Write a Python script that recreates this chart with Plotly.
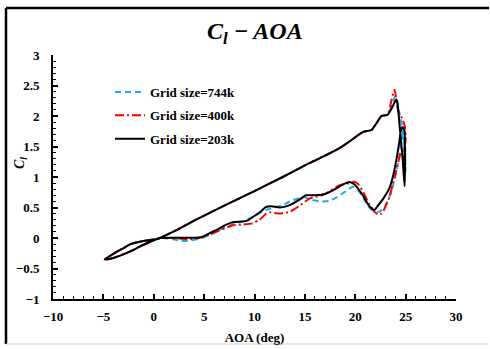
import plotly.graph_objects as go

# Upstroke branch shared by all three grids (from -5 deg up to the stall region)
up_aoa = [-4.87, -4.3, -3.7, -2.9, -2.06, -1.4, -0.73, 0.0, 0.6, 2.0, 4.2, 6.0, 8.5,
          10.0, 12.8, 15.0, 16.5, 18.4, 19.4, 20.8, 21.6, 22.1, 22.6, 23.2]
up_cl = [-0.35, -0.34, -0.31, -0.26, -0.20, -0.14, -0.09, -0.04, 0.0, 0.11, 0.30, 0.45, 0.65,
         0.77, 1.00, 1.19, 1.31, 1.47, 1.58, 1.74, 1.77, 1.88, 2.00, 2.02]

# Grid size = 744k : stall peak and downstroke
g744_aoa = [23.6, 24.0, 24.3, 24.6, 24.9, 25.0, 24.9, 24.75, 24.5, 24.1, 23.5, 22.9, 22.4,
            21.6, 21.0, 20.4, 19.8, 19.0, 18.2, 17.4, 16.4, 15.6, 15.0, 13.8, 12.8, 12.0,
            11.17, 10.0, 8.85, 8.0, 6.86, 5.5, 4.8, 4.0, 3.2, 2.5, 1.5, 0.6, 0.26, -0.5,
            -1.4, -2.3, -3.05, -4.0, -4.87]
g744_cl = [2.15, 2.33, 2.12, 1.88, 1.50, 1.10, 1.35, 1.72, 1.50, 1.10, 0.72, 0.50, 0.43,
           0.47, 0.60, 0.76, 0.84, 0.76, 0.67, 0.61, 0.60, 0.63, 0.67, 0.62, 0.54, 0.50,
           0.46, 0.36, 0.27, 0.24, 0.16, 0.05, 0.0, -0.03, -0.05, -0.04, -0.01, 0.0, -0.02, -0.035,
           -0.06, -0.10, -0.17, -0.26, -0.35]

# Grid size = 400k : stall peak and downstroke
g400_aoa = [23.6, 23.9, 24.3, 24.7, 24.95, 25.0, 24.85, 24.56, 24.07, 23.4, 22.9, 22.6,
            22.24, 21.8, 21.3, 20.8, 20.3, 19.93, 19.4, 18.4, 17.1, 16.5, 15.5, 14.47, 13.5,
            12.5, 11.5, 11.17, 10.5, 9.8, 8.8, 7.86, 6.5, 5.5, 4.5, 3.5, 2.5, 1.5, 0.6,
            0.26, -0.5, -1.4, -2.3, -3.05, -4.0, -4.87]
g400_cl = [2.26, 2.43, 2.05, 1.95, 1.80, 1.60, 1.48, 1.42, 1.11, 0.68, 0.48, 0.40,
           0.39, 0.45, 0.58, 0.75, 0.88, 0.92, 0.90, 0.86, 0.73, 0.69, 0.65, 0.53, 0.43,
           0.40, 0.42, 0.40, 0.30, 0.24, 0.22, 0.21, 0.12, 0.05, 0.0, -0.02, -0.01, 0.0, 0.0,
           -0.02, -0.035, -0.06, -0.10, -0.17, -0.26, -0.35]

# Grid size = 203k : stall peak and downstroke
g203_aoa = [23.6, 24.07, 24.2, 24.4, 24.7, 24.9, 24.95, 24.85, 24.9, 24.7, 24.55, 24.35,
            24.1, 23.8, 23.4, 22.8, 22.2, 21.9, 21.4, 20.9, 20.5, 19.9, 19.4, 18.8, 18.0,
            17.0, 16.0, 15.1, 14.47, 13.5, 12.5, 11.7, 11.17, 10.5, 9.19, 7.86, 7.2, 6.2,
            5.55, 5.0, 4.23, 1.9, 0.6, 0.26, -0.5, -1.4, -2.3, -3.05, -4.0, -4.87]
g203_cl = [2.12, 2.27, 2.20, 1.85, 1.30, 0.85, 1.50, 1.10, 1.75, 1.82, 1.78, 1.55,
           1.30, 1.05, 0.82, 0.65, 0.52, 0.46, 0.52, 0.66, 0.76, 0.88, 0.92, 0.88, 0.80,
           0.72, 0.70, 0.70, 0.63, 0.54, 0.50, 0.52, 0.51, 0.42, 0.28, 0.26, 0.22, 0.13,
           0.08, 0.03, 0.005, 0.005, 0.0, -0.02, -0.035, -0.06, -0.10, -0.17, -0.26, -0.35]

x_ticks = [-10, -5, 0, 5, 10, 15, 20, 25, 30]
y_ticks = [-1, -0.5, 0, 0.5, 1, 1.5, 2, 2.5, 3]

SERIF = "Liberation Serif"

series = [
    ("Grid size=744k", g744_aoa, g744_cl, "#1AACEB", "6px,4px"),
    ("Grid size=400k", g400_aoa, g400_cl, "#FF0000", "9px,3px,2px,3px"),
    ("Grid size=203k", g203_aoa, g203_cl, "#000000", "solid"),
]

fig = go.Figure()
for i, (name, xs, ys, color, dash) in enumerate(series):
    fig.add_trace(go.Scatter(
        x=up_aoa + xs, y=up_cl + ys, mode="lines", name=name,
        legendgroup=f"g{i}",
        line=dict(color=color, width=2, dash=dash, shape="spline", smoothing=0.6),
    ))

W, H = 490, 349
L, R, T, B = 53, 34, 55, 50
pw, ph = W - L - R, H - T - B


def px_x(p):
    return (p - L) / pw


def px_y(p):
    return (H - B - p) / ph


axis_common = dict(
    showgrid=False, zeroline=False, showline=True, linecolor="black", linewidth=2,
    ticks="inside", ticklen=5, tickwidth=1.5, tickcolor="black", automargin=False,
    tickfont=dict(family=SERIF, size=13, color="black", weight="bold"),
)

fig.update_layout(
    width=W, height=H,
    margin=dict(l=L, r=R, t=T, b=B, autoexpand=False),
    paper_bgcolor="white", plot_bgcolor="white",
    showlegend=True,
    legend=dict(
        x=px_x(110), y=px_y(77), xanchor="left", yanchor="top",
        bgcolor="rgba(0,0,0,0)", traceorder="grouped", tracegroupgap=3.5,
        font=dict(family=SERIF, size=13, color="black", weight="bold"),
        itemwidth=30,
    ),
    xaxis=dict(
        range=[-10, 30], tickvals=x_ticks, ticklabelstandoff=4,
        minor=dict(dtick=1, ticks="inside", ticklen=3, tickcolor="black", tickwidth=1),
        title=dict(text="AOA (deg)", standoff=10,
                   font=dict(family=SERIF, size=13, color="black", weight="bold")),
        **axis_common,
    ),
    yaxis=dict(
        range=[-1, 3], tickvals=y_ticks, ticklabelstandoff=9,
        minor=dict(dtick=0.1, ticks="inside", ticklen=3, tickcolor="black", tickwidth=1),
        **axis_common,
    ),
    annotations=[
        dict(text="<b><i>C<sub>l</sub> − AOA</i></b>", xref="paper", yref="paper",
             x=px_x(255), y=px_y(33), showarrow=False, xanchor="center", yanchor="middle",
             font=dict(family=SERIF, size=24, color="black")),
        dict(text="<b><i>C<sub>l</sub></i></b>", xref="paper", yref="paper",
             x=px_x(20), y=px_y(163), showarrow=False, textangle=-90,
             xanchor="center", yanchor="middle",
             font=dict(family=SERIF, size=14, color="black")),
    ],
    shapes=[
        # frame: black top and left edges, faint bottom edge
        dict(type="line", xref="paper", yref="paper", x0=px_x(6), x1=px_x(W - 1),
             y0=px_y(8), y1=px_y(8), line=dict(color="black", width=2.5)),
        dict(type="line", xref="paper", yref="paper", x0=px_x(6), x1=px_x(6),
             y0=px_y(8), y1=px_y(344), line=dict(color="black", width=2.5)),
        dict(type="line", xref="paper", yref="paper", x0=px_x(6), x1=px_x(W - 1),
             y0=px_y(344), y1=px_y(344), line=dict(color="#D0D0D0", width=1)),
    ],
)

fig.write_html(
    "out.html",
    post_script="document.documentElement.style.overflow='hidden';"
                "document.body.style.overflow='hidden';document.body.style.margin='0';",
)
